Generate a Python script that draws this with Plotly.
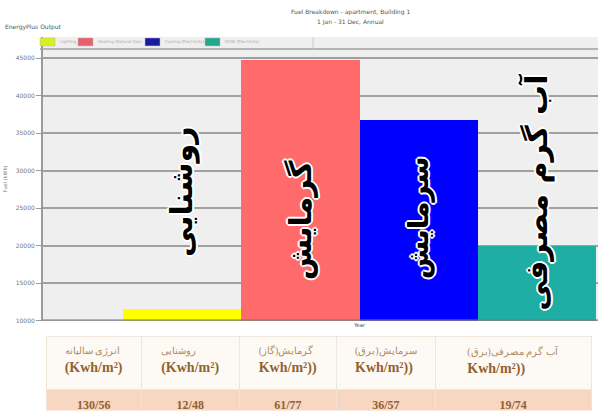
import plotly.graph_objects as go

# ---------------- data ----------------
period = "Year"
fuel_categories = ["Lighting", "Heating (Natural Gas)", "Cooling (Electricity)", "DHW (Electricity)"]
fuel_kwh = [11500, 44800, 36700, 19900]
bar_colors = ["#ffff00", "#ff6b6b", "#0000ff", "#1eaea4"]
legend_colors = ["#d8f020", "#e8606a", "#1a1aa0", "#20a890"]
overlay_labels = ["روشنایی", "گرمایش", "سرمایش", "آب گرم مصرفی"]

y_ticks = [10000, 15000, 20000, 25000, 30000, 35000, 40000, 45000]

table_header_fa = ["انرژی سالیانه", "روشنایی", "گرمایش(گاز)", "سرمایش(برق)", "آب گرم مصرفی(برق)"]
table_header_unit = ["(Kwh/m²)", "(Kwh/m²)", "Kwh/m²))", "Kwh/m²))", "Kwh/m²))"]
table_values = ["130/56", "12/48", "61/77", "36/57", "19/74"]

# ---------------- layout geometry ----------------
W, H = 600, 414
ml, mr, mt, mb = 43, 2, 37, 0
pw, ph = W - ml - mr, H - mt - mb


def px_x(p):
    return (p - ml) / pw


def px_y(p):
    return 1 - (p - mt) / ph


fig = go.Figure()
for name, val, col in zip(fuel_categories, fuel_kwh, bar_colors):
    fig.add_trace(go.Bar(x=[period], y=[val], name=name, marker_color=col,
                         marker_line_width=0, showlegend=False))

headers = ["<span style='font-size:10px;color:#b08a62'>" + fa + "</span><br><b>" + u + "</b>"
           for fa, u in zip(table_header_fa, table_header_unit)]
fig.add_trace(go.Table(
    domain=dict(x=[px_x(46), px_x(591)], y=[0.0, px_y(339)]),
    columnwidth=[95, 97, 97, 98, 155],
    header=dict(values=headers, height=53, align="center",
                fill_color="#fdfaf6", line_color="#efe6dc",
                font=dict(family="Liberation Serif", size=14, color="#93612f")),
    cells=dict(values=[["<b>" + v + "</b>"] for v in table_values], height=22, align="center",
               fill_color="#f7d6c2", line_color="#f1e3d8",
               font=dict(family="Liberation Serif", size=12, color="#93612f")),
))

# overlay Persian labels, rotated, on each bar
n = len(fuel_categories)
label_y = [27170, 23450, 23740, 27200]
label_size = [30, 30, 28, 30]
for i, (txt, yy, fs) in enumerate(zip(overlay_labels, label_y, label_size)):
    xoff = -0.5 + (i + 0.5) / n
    fig.add_annotation(
        x=xoff, y=yy, xref="x", yref="y", text="<b>" + txt + "</b>",
        textangle=-90, showarrow=False,
        font=dict(family="DejaVu Sans", size=fs, color="black",
                  shadow="2px 0 0 #fff, -2px 0 0 #fff, 0 2px 0 #fff, 0 -2px 0 #fff, 1px 1px 0 #fff, -1px -1px 0 #fff, 1px -1px 0 #fff, -1px 1px 0 #fff"),
    )

# titles
for txt, x, y in [("Fuel Breakdown - apartment, Building 1", 350, 12),
                  ("1 Jan - 31 Dec, Annual", 350, 22),
                  ("EnergyPlus Output", 33, 27)]:
    fig.add_annotation(x=px_x(x), y=px_y(y), xref="paper", yref="paper", text=txt,
                       showarrow=False, xanchor="center", yanchor="middle",
                       font=dict(family="DejaVu Sans", size=6, color="#555"))

# legend (drawn from the category and colour lists)
legend_x = [40, 78, 145, 205]
for name, col, lx in zip(fuel_categories, legend_colors, legend_x):
    fig.add_shape(type="rect", xref="paper", yref="paper",
                  x0=px_x(lx), x1=px_x(lx + 15), y0=px_y(46), y1=px_y(38),
                  fillcolor=col, line=dict(color="#bbbbbb", width=0.5))
    fig.add_annotation(x=px_x(lx + 18), y=px_y(42), xref="paper", yref="paper", text=name,
                       showarrow=False, xanchor="left", yanchor="middle",
                       font=dict(family="DejaVu Sans", size=4, color="#aaaaaa"))

fig.add_shape(type="line", xref="paper", yref="paper", x0=px_x(40), x1=1,
              y0=px_y(49), y1=px_y(49), line=dict(color="#a0a0a0", width=1.5))
fig.add_shape(type="line", xref="paper", yref="paper", x0=px_x(313), x1=px_x(313),
              y0=px_y(49), y1=px_y(37), line=dict(color="#cccccc", width=1))

y_max = 10000 + (323 - mt) / 37.8 * 5000

fig.update_layout(
    width=W, height=H,
    margin=dict(l=ml, r=mr, t=mt, b=mb),
    barmode="group", bargap=0, bargroupgap=0,
    paper_bgcolor="white", plot_bgcolor="#efefef",
    font=dict(family="DejaVu Sans", size=6, color="#555"),
    showlegend=False,
    xaxis=dict(range=[-0.669, 0.504], showgrid=False, ticks="", showline=False,
               tickfont=dict(size=5, color="#333")),
    yaxis=dict(domain=[px_y(323), 1], range=[10000, y_max],
               tickvals=y_ticks, tickformat="d", showgrid=True, gridcolor="#a0a0a0", gridwidth=1.5,
               showline=True, linecolor="#9a9a9a", linewidth=2,
               ticks="outside", ticklen=5, tickcolor="#9a9a9a",
               tickfont=dict(size=6, color="#777"),
               title=dict(text="Fuel (kWh)", font=dict(size=5, color="#777"), standoff=8),
               zeroline=False),
)
fig.add_shape(type="line", xref="paper", yref="y", x0=0, x1=1, y0=10000, y1=10000,
              line=dict(color="#777", width=2.5), layer="above")

fig.write_html("out.html", config={"displayModeBar": False},
               post_script="document.body.style.margin='0';")
